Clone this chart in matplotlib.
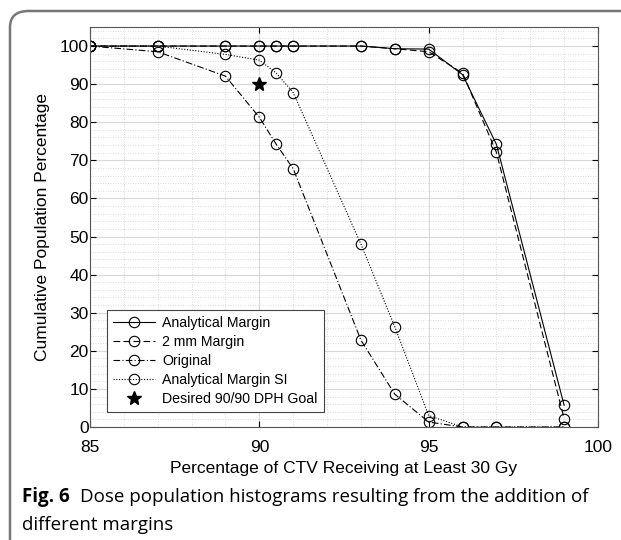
import matplotlib
matplotlib.use("Agg")
import matplotlib.pyplot as plt
from matplotlib.patches import FancyBboxPatch
from matplotlib.ticker import MultipleLocator

# data
dose = [85, 87, 89, 90, 90.5, 91, 93, 94, 95, 96, 97, 99]
analytical = [100, 100, 100, 100, 100, 100, 100, 99.3, 99.2, 92.5, 74.2, 5.7]
two_mm = [100, 100, 100, 100, 100, 100, 100, 99.3, 98.5, 92.9, 72.1, 2.2]
original = [100, 98.5, 92.1, 81.3, 74.2, 67.8, 22.8, 8.6, 1.3, 0, 0, 0]
analytical_si = [100, 100, 97.8, 96.3, 92.9, 87.8, 48.0, 26.3, 3.0, 0, 0, 0]
goal_x, goal_y = [90], [90]

plt.rcParams['font.family'] = ['Liberation Sans', 'DejaVu Sans']

fig = plt.figure(figsize=(6.21, 5.4), dpi=100)
ax = fig.add_axes([90 / 621, 1 - 427 / 540, 508 / 621, 400 / 540])

mk = dict(marker='o', markersize=7.5, markerfacecolor='none',
          markeredgecolor='black', markeredgewidth=0.8, color='black', linewidth=0.8)
ax.plot(dose, analytical, linestyle='-', label='Analytical Margin', **mk)
ax.plot(dose, two_mm, linestyle=(0, (6, 3)), label='2 mm Margin', **mk)
ax.plot(dose, original, linestyle=(0, (6, 2, 1, 2)), label='Original', **mk)
ax.plot(dose, analytical_si, linestyle=(0, (1, 1.5)), label='Analytical Margin SI', **mk)
ax.plot(goal_x, goal_y, linestyle='none', marker='*', markersize=10,
        color='black', label='Desired 90/90 DPH Goal')

ax.set_xlim(85, 100)
ax.set_ylim(0, 105)
ax.xaxis.set_major_locator(MultipleLocator(5))
ax.xaxis.set_minor_locator(MultipleLocator(1))
ax.yaxis.set_major_locator(MultipleLocator(10))
ax.yaxis.set_minor_locator(MultipleLocator(2))
ax.grid(which='major', color='#d8d8d8', linewidth=0.8)
ax.grid(which='minor', color='#d0d0d0', linestyle=(0, (1, 2)), linewidth=0.6)
ax.set_axisbelow(True)
ax.tick_params(which='both', direction='in', top=True, right=True, labelsize=12.5)
ax.tick_params(which='minor', length=0)
ax.tick_params(which='major', length=4)
ax.tick_params(axis='x', pad=9)
ax.tick_params(axis='y', pad=1)
for s in ax.spines.values():
    s.set_color('#555555')
    s.set_linewidth(0.8)

ax.set_xlabel('Percentage of CTV Receiving at Least 30 Gy', fontsize=12.5, labelpad=5)
ax.set_ylabel('Cumulative Population Percentage', fontsize=12.5, labelpad=7)

leg = ax.legend(loc='lower left', fontsize=10.2, handlelength=3.0,
                fancybox=False, framealpha=1, edgecolor='#444444',
                borderpad=0.4, labelspacing=0.36, handletextpad=0.5,
                bbox_to_anchor=(0.02, 0.02))
leg.get_frame().set_linewidth(0.8)

# rounded frame around the figure
box = FancyBboxPatch((10 / 621, -0.2), 1.2, 1 - 11 / 540 + 0.2,
                     boxstyle='round,pad=0,rounding_size=0.03',
                     transform=fig.transFigure, fill=False,
                     edgecolor='#777777', linewidth=1.8, clip_on=False)
fig.patches.append(box)

cap = ['Open Sans', 'DejaVu Sans']
fig.text(22 / 621, 1 - 497 / 540, 'Fig. 6', fontsize=13.5, fontweight='bold',
         family=cap, va='center')
fig.text(80 / 621, 1 - 497 / 540, 'Dose population histograms resulting from the addition of',
         fontsize=13.5, family=cap, va='center')
fig.text(22 / 621, 1 - 525 / 540, 'different margins', fontsize=13.5, family=cap, va='center')

fig.savefig('out.png', dpi=100)
